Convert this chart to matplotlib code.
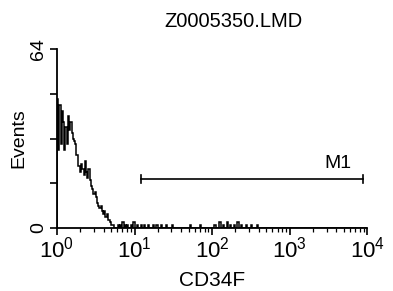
import numpy as np
import matplotlib
matplotlib.use("Agg")
import matplotlib.pyplot as plt
from matplotlib.ticker import FixedLocator, NullFormatter

plt.rcParams["font.family"] = ["Liberation Sans", "DejaVu Sans"]
plt.rcParams["mathtext.fontset"] = "custom"
plt.rcParams["mathtext.rm"] = "Liberation Sans"

# histogram: 256 log channels over 4 decades
n_channels = 256
head_counts = [46, 28, 44, 30, 42, 38, 28, 36, 30, 40, 35, 38,
               34, 32, 31, 30, 26, 22, 22, 20, 23, 21, 19, 24,
               20, 18, 21, 17, 15, 14, 12, 13, 11, 9, 8, 7,
               8, 6, 5, 6, 4, 5, 3, 3, 2, 1, 1]
sparse_channels = [50, 52, 54, 56, 58, 61, 63, 66, 69, 72, 75, 79, 82, 86,
                   90, 95, 110, 118, 130, 134, 137, 140, 143, 146, 149,
                   152, 156, 160, 165]
sparse_counts = [1, 1, 2, 1, 1, 1, 2, 1, 1, 1, 1, 1, 1, 1,
                 1, 1, 1, 1, 1, 2, 1, 2, 1, 1, 2, 1, 1, 1, 1]

marker_lo, marker_hi, marker_y = 12.2, 8860, 17.5

counts = np.zeros(n_channels)
counts[:len(head_counts)] = head_counts
counts[sparse_channels] = sparse_counts
edges = 10 ** (np.arange(n_channels + 1) / 64)

fig = plt.figure(figsize=(3.93, 2.91), dpi=100, facecolor="white")
ax = fig.add_axes([0.145, 0.2165, 0.789, 0.615])

ax.stairs(counts, edges, color="black", linewidth=1.1)

# M1 gate
ax.plot([marker_lo, marker_hi], [marker_y, marker_y], color="black", lw=1.2)
ax.plot([marker_lo, marker_lo], [marker_y - 1.3, marker_y + 1.3], color="black", lw=1.2)
ax.plot([marker_hi, marker_hi], [marker_y - 1.3, marker_y + 1.3], color="black", lw=1.2)
ax.text(10 ** 3.62, marker_y + 2.6, "M1", fontsize=14, ha="center", va="bottom")

ax.set_xscale("log")
ax.set_xlim(1, 1e4)
ax.set_ylim(0, 64)
for s in ("top", "right"):
    ax.spines[s].set_visible(False)
for s in ("left", "bottom"):
    ax.spines[s].set_linewidth(1.3)

ax.xaxis.set_major_locator(FixedLocator([1, 10, 100, 1000, 10000]))
ax.set_xticklabels([r"$10^{0}$", r"$10^{1}$", r"$10^{2}$", r"$10^{3}$", r"$10^{4}$"],
                   fontsize=16)
minor = [m * 10 ** d for d in range(4) for m in range(2, 10)]
ax.xaxis.set_minor_locator(FixedLocator(minor))
ax.xaxis.set_minor_formatter(NullFormatter())
ax.tick_params(axis="x", which="major", length=5, width=1.2, pad=1)
ax.tick_params(axis="x", which="minor", length=3, width=0.9)

ax.set_yticks([0, 16, 32, 48, 64])
ax.set_yticklabels(["0", "", "", "", "64"], rotation=90, va="center", fontsize=14)
ax.tick_params(axis="y", length=5, width=1.2, pad=2)

ax.set_xlabel("CD34F", fontsize=15, labelpad=6)
ax.set_ylabel("Events", fontsize=14)
ax.yaxis.set_label_coords(-0.095, 0.5)
fig.text(0.595, 0.925, "Z0005350.LMD", fontsize=14.5, ha="center", va="center")

plt.savefig("out.png", dpi=100)
